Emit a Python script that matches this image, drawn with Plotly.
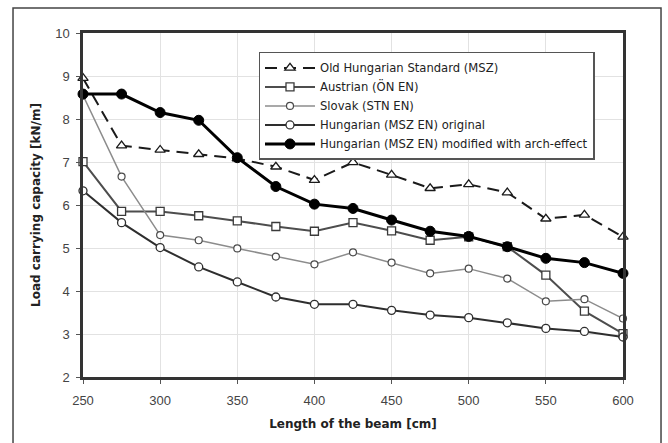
import plotly.graph_objects as go

# Beam length [cm]
beam_length = [250, 275, 300, 325, 350, 375, 400, 425, 450, 475, 500, 525, 550, 575, 600]

# Load carrying capacity [kN/m] for each standard
old_hungarian = [8.95, 7.38, 7.28, 7.18, 7.08, 6.89, 6.58, 6.99, 6.70, 6.39, 6.48, 6.29, 5.68, 5.77, 5.26]
austrian = [7.01, 5.85, 5.85, 5.75, 5.63, 5.50, 5.39, 5.59, 5.40, 5.18, 5.26, 5.03, 4.37, 3.53, 3.01]
slovak = [8.55, 6.66, 5.30, 5.18, 4.99, 4.80, 4.62, 4.90, 4.66, 4.41, 4.52, 4.29, 3.76, 3.81, 3.36]
hungarian_original = [6.33, 5.59, 5.01, 4.56, 4.21, 3.86, 3.69, 3.69, 3.55, 3.44, 3.38, 3.26, 3.13, 3.06, 2.93]
hungarian_arch = [8.58, 8.58, 8.15, 7.97, 7.10, 6.43, 6.02, 5.92, 5.65, 5.39, 5.27, 5.03, 4.76, 4.66, 4.41]

series_names = [
    "Old Hungarian Standard (MSZ)",
    "Austrian (ÖN EN)",
    "Slovak (STN EN)",
    "Hungarian (MSZ EN) original",
    "Hungarian (MSZ EN) modified with arch-effect",
]

fig = go.Figure()

fig.add_trace(go.Scatter(
    x=beam_length, y=old_hungarian, name=series_names[0], mode="lines+markers",
    line=dict(color="#1a1a1a", width=2, dash="12px,7px"),
    marker=dict(symbol="triangle-up", size=9, color="white",
                line=dict(color="#1a1a1a", width=1.3)),
))
fig.add_trace(go.Scatter(
    x=beam_length, y=austrian, name=series_names[1], mode="lines+markers",
    line=dict(color="#4d4d4d", width=2),
    marker=dict(symbol="square", size=8, color="white",
                line=dict(color="#3a3a3a", width=1.3)),
))
fig.add_trace(go.Scatter(
    x=beam_length, y=slovak, name=series_names[2], mode="lines+markers",
    line=dict(color="#8c8c8c", width=1.5),
    marker=dict(symbol="circle", size=7, color="white",
                line=dict(color="#4a4a4a", width=1.2)),
))
fig.add_trace(go.Scatter(
    x=beam_length, y=hungarian_original, name=series_names[3], mode="lines+markers",
    line=dict(color="#2e2e2e", width=2),
    marker=dict(symbol="circle", size=8, color="white",
                line=dict(color="#2e2e2e", width=1.3)),
))
fig.add_trace(go.Scatter(
    x=beam_length, y=hungarian_arch, name=series_names[4], mode="lines+markers",
    line=dict(color="#000000", width=3),
    marker=dict(symbol="circle", size=10, color="#000000",
                line=dict(color="#000000", width=1)),
))

fig.update_traces(cliponaxis=False)

axis_common = dict(
    showline=True, linewidth=2.5, linecolor="#333333", mirror=True,
    showgrid=True, gridcolor="#e2e2e2", gridwidth=1,
    ticks="outside", ticklen=4, tickwidth=1, tickcolor="#555555",
    tickfont=dict(family="Liberation Sans, Arial", size=13, color="#444444"),
    zeroline=False,
)

fig.update_xaxes(
    range=[250, 600], dtick=50, tick0=250,
    ticklabelstandoff=6,
    title=dict(text="Length of the beam [cm]", standoff=13,
               font=dict(family="DejaVu Sans", size=12, color="#222222", weight="bold")),
    **axis_common,
)
fig.update_yaxes(
    range=[2, 10], dtick=1, tick0=2,
    ticklabelstandoff=4,
    title=dict(text="Load carrying capacity [kN/m]", standoff=12,
               font=dict(family="DejaVu Sans", size=12, color="#222222", weight="bold")),
    **axis_common,
)

# Outer frame around the whole graphic
fig.add_shape(
    type="rect", xref="paper", yref="paper",
    x0=-0.1296, x1=1.0704, y0=-0.3, y1=1.0727,
    line=dict(color="#444444", width=1.5), fillcolor="rgba(0,0,0,0)", layer="below",
)

fig.update_layout(
    width=668, height=443,
    margin=dict(l=83, r=45, t=33, b=66),
    paper_bgcolor="white", plot_bgcolor="white",
    showlegend=True,
    legend=dict(
        x=0.325, y=0.945, xanchor="left", yanchor="top",
        bgcolor="white", bordercolor="#555555", borderwidth=1.5,
        font=dict(family="DejaVu Sans", size=11.6, color="#222222"),
        tracegroupgap=0, itemwidth=50,
    ),
)

fig.write_html("out.html")
